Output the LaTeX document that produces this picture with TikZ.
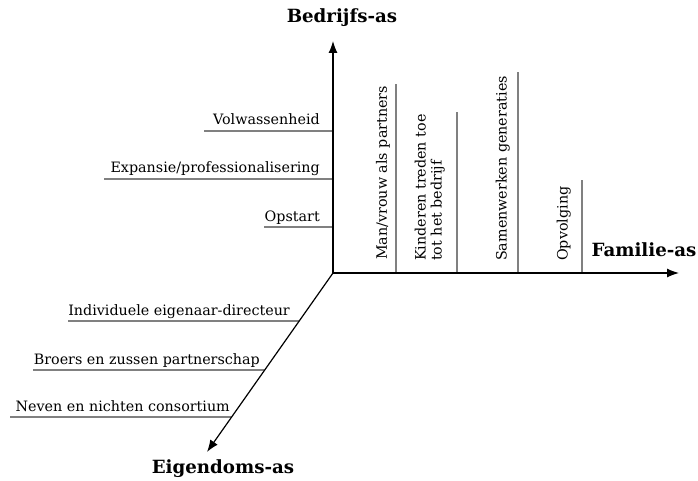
\documentclass[tikz,border=0pt]{standalone}
\usepackage{fontspec}
\setmainfont{DejaVu Serif}
\usetikzlibrary{arrows.meta,calc}

\begin{document}
\begin{tikzpicture}[x=1pt, y=-1pt,
	 axis/.style={line width=1.2pt, -{Latex[length=12pt, width=9pt]}},
	 tick/.style={line width=1.6pt, gray},
	 lab/.style={inner sep=0pt, font=\fontsize{14.3}{16}\selectfont},
	 axlab/.style={inner sep=0pt, font=\fontsize{18.2}{20}\selectfont\bfseries}]
	 \useasboundingbox (0,0) rectangle (698,481);
	 
	 \coordinate (O) at (333,273);
	 \coordinate (Ytop) at (333,41);
	 \coordinate (Xend) at (679,273);
	 \coordinate (Zend) at (207,452);
	 
	 % bedrijfs-as
	 \draw[tick] (204,131) -- (333,131);
	 \draw[tick] (104,179) -- (333,179);
	 \draw[tick] (264,227) -- (333,227);
	 \node[lab, anchor=base east] (volw) at (320,125) {Volwassenheid};
	 \node[lab, anchor=base east] (expa) at (320,173) {Expansie/professionalisering};
	 \node[lab, anchor=base east] (opst) at (320,221) {Opstart};
	 
	 % familie-as
	 \draw[tick] (396,273) -- (396,84);
	 \draw[tick] (457,273) -- (457,112);
	 \draw[tick] (518,273) -- (518,72);
	 \draw[tick] (582,273) -- (582,180);
	 \node[lab, rotate=90, anchor=south west] (manv) at (390,260) {Man/vrouw als partners};
	 \node[lab, rotate=90, anchor=south west, align=left] (kind) at (445,261) {Kinderen treden toe\\tot het bedrijf};
	 \node[lab, rotate=90, anchor=south west] (samw) at (510,261) {Samenwerken generaties};
	 \node[lab, rotate=90, anchor=south west] (opvo) at (571,261) {Opvolging};
	 
	 % eigendoms-as
	 \draw[tick] (68,321) -- ($(O)!48/179!(Zend)$);
	 \draw[tick] (33,370) -- ($(O)!97/179!(Zend)$);
	 \draw[tick] (10,417) -- ($(O)!144/179!(Zend)$);
	 \node[lab, anchor=base east] (indi) at (290,315) {Individuele eigenaar-directeur};
	 \node[lab, anchor=base east] (broe) at (260,364) {Broers en zussen partnerschap};
	 \node[lab, anchor=base east] (neve) at (230,411) {Neven en nichten consortium};
	 
	 % assen
	 \draw[axis] (O) -- (Ytop);
	 \draw[axis] (O) -- (Xend);
	 \draw[axis] (O) -- (Zend);
	 \node[axlab] (bedr) at (342,18) {Bedrijfs-as};
	 \node[axlab] (fami) at (644,250) {Familie-as};
	 \node[axlab] (eige) at (223,469) {Eigendoms-as};
\end{tikzpicture}
\end{document}
